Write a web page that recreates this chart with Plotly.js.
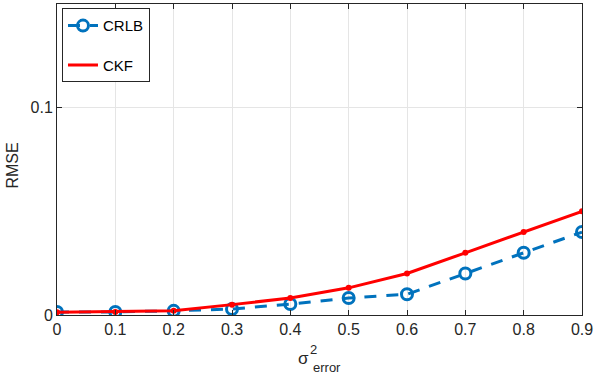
<!DOCTYPE html>
<html>
<head>
<meta charset="utf-8">
<script src="https://cdn.plot.ly/plotly-3.0.1.min.js"></script>
<style>html,body{margin:0;padding:0;background:#fff;}#chart{width:595px;height:376px;}</style>
</head>
<body>
<div id="chart"></div>
<script>
const sigma2 = [0, 0.1, 0.2, 0.3, 0.4, 0.5, 0.6, 0.7, 0.8, 0.9];
const crlb = [0.0015, 0.0015, 0.002, 0.0029, 0.0053, 0.0082, 0.010, 0.020, 0.030, 0.040];
const ckf = [0.0013, 0.0015, 0.002, 0.005, 0.0082, 0.0131, 0.020, 0.030, 0.040, 0.050];
const seriesNames = ['CRLB', 'CKF'];
const xTicks = [0, 0.1, 0.2, 0.3, 0.4, 0.5, 0.6, 0.7, 0.8, 0.9];
const xTickText = ['0', '0.1', '0.2', '0.3', '0.4', '0.5', '0.6', '0.7', '0.8', '0.9'];
const yTicks = [0, 0.1];
const yTickText = ['0', '0.1'];

const font = 'Liberation Sans, Arial, Helvetica, sans-serif';
const ink = '#262626';
const traces = [
  {
    x: sigma2, y: crlb, name: seriesNames[0], type: 'scatter', mode: 'lines+markers',
    legendgroup: 'a',
    line: {color: '#0072BD', width: 3, dash: '12px,10px'},
    marker: {symbol: 'circle-open', size: 11, color: '#0072BD', line: {width: 3, color: '#0072BD'}}
  },
  {
    x: sigma2, y: ckf, name: seriesNames[1], type: 'scatter', mode: 'lines',
    legendgroup: 'b',
    line: {color: '#FF0000', width: 3}
  },
  {
    x: sigma2, y: ckf, name: seriesNames[1], type: 'scatter', mode: 'markers',
    legendgroup: 'b', showlegend: false,
    marker: {symbol: 'circle', size: 6, color: '#FF0000'}
  }
];
const layout = {
  width: 595, height: 376,
  margin: {l: 57, r: 13, t: 4, b: 61},
  paper_bgcolor: '#fff', plot_bgcolor: '#fff',
  font: {family: font, size: 16, color: ink},
  showlegend: true,
  legend: {
    x: 0.0095, y: 0.986, xanchor: 'left', yanchor: 'top',
    bgcolor: '#fff', bordercolor: ink, borderwidth: 1,
    font: {family: font, size: 15, color: '#000'},
    traceorder: 'grouped', tracegroupgap: 17,
    itemwidth: 30
  },
  xaxis: {
    range: [0, 0.9], tickvals: xTicks, ticktext: xTickText,
    showgrid: true, gridcolor: '#e5e5e5', gridwidth: 1,
    zeroline: false, showline: true, linecolor: ink, linewidth: 1,
    mirror: 'ticks', ticks: 'inside', ticklen: 5, tickcolor: ink,
    tickfont: {family: font, size: 16, color: ink}
  },
  yaxis: {
    range: [0, 0.15], tickvals: yTicks, ticktext: yTickText,
    showgrid: true, gridcolor: '#e5e5e5', gridwidth: 1,
    zeroline: false, showline: true, linecolor: ink, linewidth: 1,
    mirror: 'ticks', ticks: 'inside', ticklen: 5, tickcolor: ink,
    tickfont: {family: font, size: 16, color: ink}
  },
  annotations: [
    {xref: 'paper', yref: 'paper', x: -0.084, y: 0.48, xanchor: 'center', yanchor: 'middle', showarrow: false,
     textangle: -90, text: 'RMSE', font: {family: font, size: 16, color: ink}},
    {xref: 'paper', yref: 'paper', x: 0.47, y: -0.14, xanchor: 'center', yanchor: 'middle', showarrow: false,
     text: 'σ', font: {family: font, size: 17, color: ink}},
    {xref: 'paper', yref: 'paper', x: 0.489, y: -0.11, xanchor: 'center', yanchor: 'middle', showarrow: false,
     text: '2', font: {family: font, size: 13, color: ink}},
    {xref: 'paper', yref: 'paper', x: 0.484, y: -0.168, xanchor: 'left', yanchor: 'middle', showarrow: false,
     text: 'error', font: {family: font, size: 13, color: ink}}
  ]
};
Plotly.newPlot('chart', traces, layout, {displayModeBar: false, staticPlot: true});
</script>
</body>
</html>
